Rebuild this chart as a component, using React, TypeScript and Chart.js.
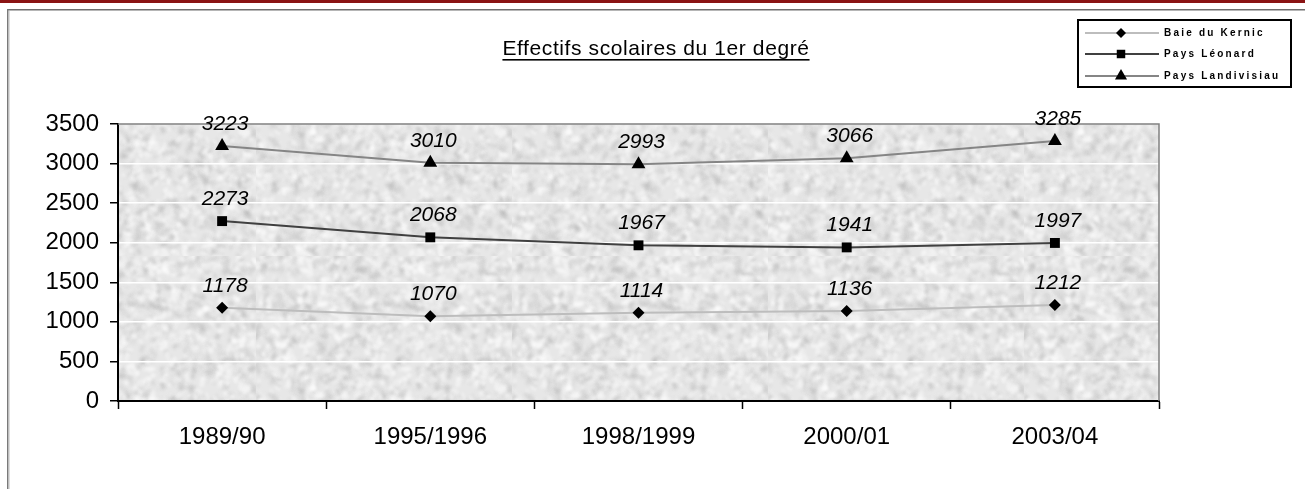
import React, { useEffect, useRef } from 'react';
import { Chart, registerables } from 'chart.js';

Chart.register(...registerables);

const categories = ['1989/90', '1995/1996', '1998/1999', '2000/01', '2003/04'];
const baieDuKernic = [1178, 1070, 1114, 1136, 1212];
const paysLeonard = [2273, 2068, 1967, 1941, 1997];
const paysLandivisiau = [3223, 3010, 2993, 3066, 3285];
const seriesNames = ['Baie du Kernic', 'Pays Léonard', 'Pays Landivisiau'];
const yMin = 0;
const yMax = 3500;
const yStep = 500;
const chartTitle = 'Effectifs scolaires du 1er degré';

const FONT = '"Liberation Sans", Arial, sans-serif';
const lineColors = ['#bdbdbd', '#404040', '#858585'];
const pointStyles = ['rectRot', 'rect', 'triangle'];
const pointRadii = [6, 7, 8];

function makeTexture(ctx: CanvasRenderingContext2D) {
  const size = 256;
  const c = document.createElement('canvas');
  c.width = size;
  c.height = size;
  const g = c.getContext('2d') as CanvasRenderingContext2D;
  g.fillStyle = '#e7e7e7';
  g.fillRect(0, 0, size, size);
  let s = 987654;
  const rnd = () => {
    s = (s * 1103515245 + 12345) & 0x7fffffff;
    return s / 0x7fffffff;
  };
  g.filter = 'blur(1.5px)';
  for (let i = 0; i < 3000; i++) {
    const x = rnd() * size;
    const y = rnd() * size;
    const r = 0.8 + rnd() * 2;
    const dark = rnd() < 0.5;
    g.fillStyle = dark
      ? `rgba(175,175,175,${0.12 + rnd() * 0.22})`
      : `rgba(255,255,255,${0.25 + rnd() * 0.35})`;
    g.beginPath();
    g.ellipse(x, y, r * (1 + rnd() * 2), r, rnd() * Math.PI, 0, Math.PI * 2);
    g.fill();
  }
  return ctx.createPattern(c, 'repeat');
}

function drawMarker(ctx: CanvasRenderingContext2D, style: string, x: number, y: number, r: number) {
  ctx.beginPath();
  if (style === 'rectRot') {
    ctx.moveTo(x, y - r);
    ctx.lineTo(x + r, y);
    ctx.lineTo(x, y + r);
    ctx.lineTo(x - r, y);
  } else if (style === 'rect') {
    const h = r * Math.SQRT1_2;
    ctx.rect(x - h, y - h, 2 * h, 2 * h);
  } else {
    ctx.moveTo(x, y - r);
    ctx.lineTo(x + r * 0.866, y + r * 0.5);
    ctx.lineTo(x - r * 0.866, y + r * 0.5);
  }
  ctx.closePath();
  ctx.fill();
}

const decorPlugin = {
  id: 'decor',
  beforeDraw(chart: any) {
    const { ctx, chartArea } = chart;
    const pat = makeTexture(ctx);
    ctx.save();
    ctx.fillStyle = '#ffffff';
    ctx.fillRect(0, 0, chart.width, chart.height);
    ctx.fillStyle = pat || '#e7e7e7';
    ctx.fillRect(chartArea.left, chartArea.top, chartArea.right - chartArea.left, chartArea.bottom - chartArea.top);
    ctx.restore();
  },
  beforeDatasetsDraw(chart: any) {
    const { ctx, chartArea } = chart;
    ctx.save();
    ctx.strokeStyle = '#808080';
    ctx.lineWidth = 1.5;
    ctx.beginPath();
    ctx.moveTo(chartArea.left, chartArea.top);
    ctx.lineTo(chartArea.right, chartArea.top);
    ctx.lineTo(chartArea.right, chartArea.bottom);
    ctx.stroke();
    ctx.restore();
  },
  afterDatasetsDraw(chart: any) {
    const { ctx } = chart;
    ctx.save();
    ctx.fillStyle = '#000';
    ctx.font = `italic 21px ${FONT}`;
    ctx.textAlign = 'center';
    ctx.textBaseline = 'middle';
    chart.data.datasets.forEach((ds: any, di: number) => {
      const meta = chart.getDatasetMeta(di);
      meta.data.forEach((pt: any, i: number) => {
        ctx.fillText(String(ds.data[i]), pt.x + 3, pt.y - 22);
      });
    });
    ctx.restore();
  },
  afterDraw(chart: any) {
    const { ctx } = chart;
    ctx.save();
    // top band and frame
    ctx.fillStyle = '#8a1414';
    ctx.fillRect(0, 0, chart.width, 3);
    ctx.fillStyle = '#6e6e6e';
    ctx.fillRect(7, 9, chart.width - 7, 1.5);
    ctx.fillStyle = '#7a7a7a';
    ctx.fillRect(7, 9, 1.5, chart.height - 9);
    ctx.fillStyle = '#bdbdbd';
    ctx.fillRect(8.5, 10.5, 1, chart.height - 10);

    // title
    ctx.fillStyle = '#000';
    ctx.font = `21px ${FONT}`;
    (ctx as any).letterSpacing = '0.6px';
    ctx.textAlign = 'center';
    ctx.textBaseline = 'alphabetic';
    const tx = 656;
    ctx.fillText(chartTitle, tx, 55);
    const tw = ctx.measureText(chartTitle).width;
    ctx.fillRect(tx - tw / 2, 59, tw, 1.6);

    // legend
    const bx = 1078, by = 20, bw = 213, bh = 67;
    ctx.strokeStyle = '#000';
    ctx.lineWidth = 2;
    ctx.strokeRect(bx, by, bw, bh);
    const rows = [33, 54, 76];
    ctx.font = `bold 10px ${FONT}`;
    (ctx as any).letterSpacing = '2.2px';
    ctx.textAlign = 'left';
    ctx.textBaseline = 'middle';
    seriesNames.forEach((name, i) => {
      const y = rows[i];
      ctx.strokeStyle = lineColors[i];
      ctx.lineWidth = 2;
      ctx.beginPath();
      ctx.moveTo(1085, y);
      ctx.lineTo(1159, y);
      ctx.stroke();
      ctx.fillStyle = '#000';
      drawMarker(ctx, pointStyles[i], 1121, y, [5, 6, 7][i]);
      ctx.fillText(name, 1164, y + 0.5);
    });
    ctx.restore();
  },
};

export default function App() {
  const ref = useRef<HTMLCanvasElement | null>(null);
  useEffect(() => {
    if (!ref.current) return;
    const series = [baieDuKernic, paysLeonard, paysLandivisiau];
    const chart = new Chart(ref.current, {
      type: 'line',
      data: {
        labels: categories,
        datasets: series.map((d, i) => ({
          label: seriesNames[i],
          data: d,
          borderColor: lineColors[i],
          borderWidth: 2,
          pointStyle: pointStyles[i] as any,
          pointRadius: pointRadii[i],
          pointBackgroundColor: '#000',
          pointBorderColor: '#000',
          pointBorderWidth: 0,
          tension: 0,
          fill: false,
        })),
      },
      options: {
        responsive: false,
        animation: false,
        layout: { padding: { left: 0, top: 124, right: 146, bottom: 0 } },
        plugins: {
          legend: { display: false },
          title: { display: false },
          tooltip: { enabled: false },
        },
        scales: {
          x: {
            type: 'category',
            offset: true,
            afterFit: (s: any) => { s.height = 88; },
            border: { display: true, color: '#000', width: 2 },
            grid: {
              display: true,
              offset: true,
              drawOnChartArea: false,
              drawTicks: true,
              tickLength: 8,
              tickColor: '#000',
              tickWidth: 1.5,
            },
            ticks: {
              color: '#000',
              font: { family: FONT, size: 24 },
              padding: 14,
              maxRotation: 0,
            },
          },
          y: {
            min: yMin,
            max: yMax,
            afterFit: (s: any) => { s.width = 118; },
            border: { display: true, color: '#000', width: 2 },
            grid: {
              color: '#ffffff',
              lineWidth: 1.5,
              drawTicks: true,
              tickLength: 8,
              tickColor: '#000',
              tickWidth: 1.5,
            },
            ticks: {
              stepSize: yStep,
              color: '#000',
              font: { family: FONT, size: 24 },
              padding: 11,
              callback: (v: any) => String(v),
            },
          },
        },
      },
      plugins: [decorPlugin],
    });
    return () => chart.destroy();
  }, []);
  return (
    <div style={{ position: 'absolute', left: 0, top: 0, width: 1305, height: 489, background: '#fff' }}>
      <canvas ref={ref} width={1305} height={489} style={{ display: 'block' }} />
    </div>
  );
}
